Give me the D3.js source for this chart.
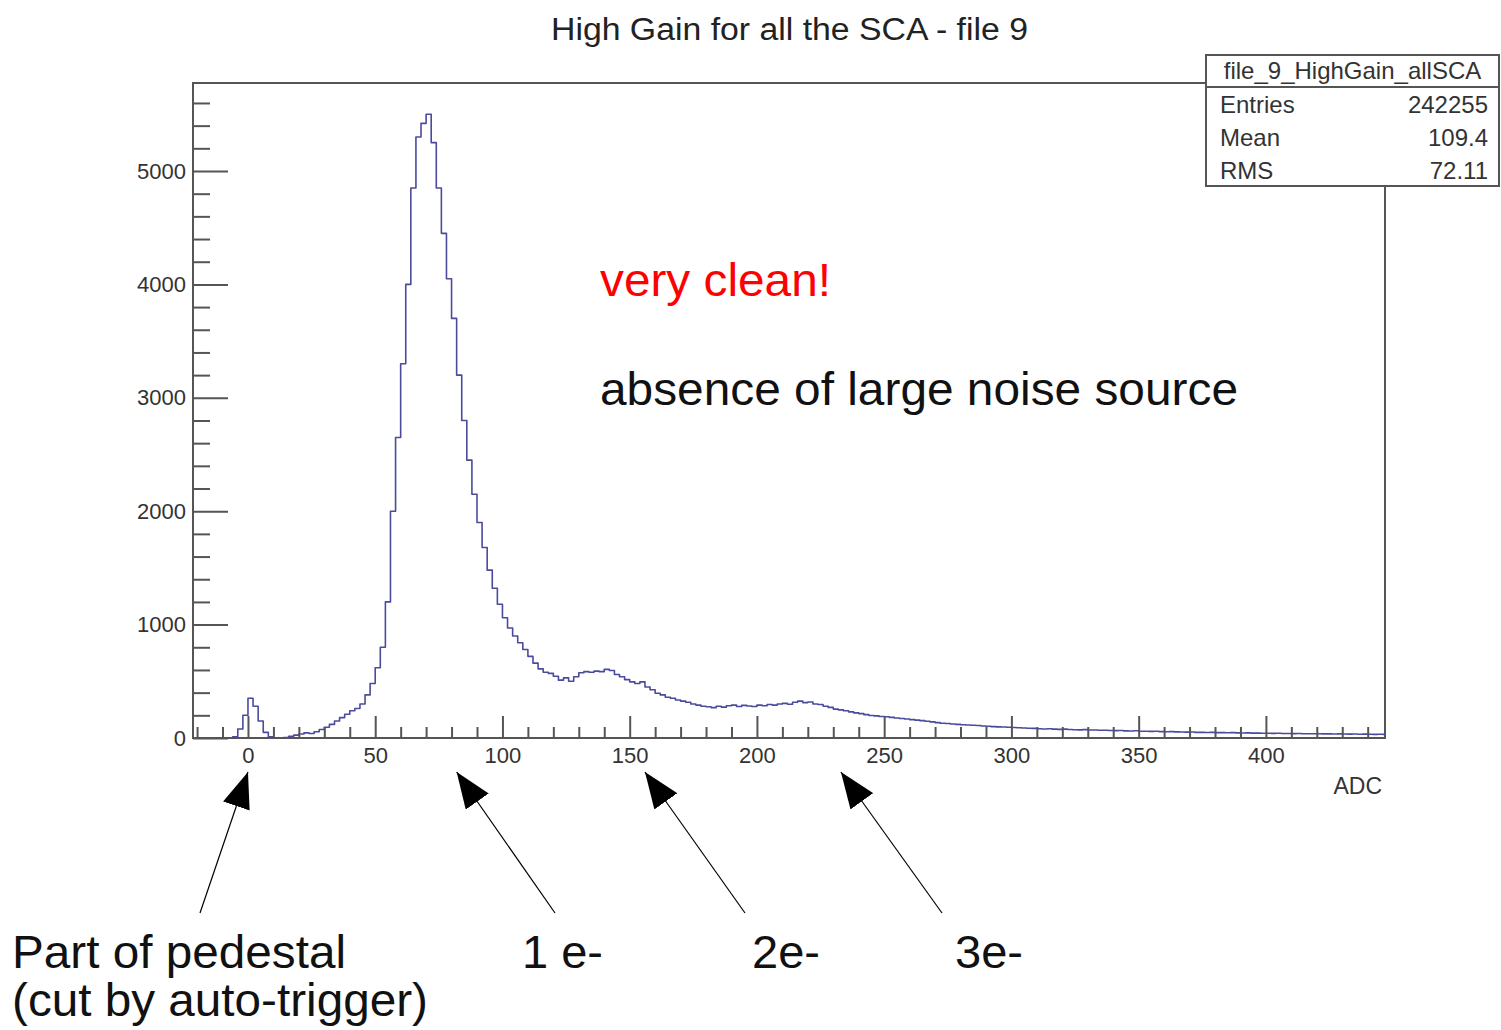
<!DOCTYPE html>
<html>
<head>
<meta charset="utf-8">
<script src="https://cdn.jsdelivr.net/npm/d3@7"></script>
<style>
  body { margin: 0; background: #fff; }
  svg { display: block; font-family: "Liberation Sans", Arial, sans-serif; }
</style>
</head>
<body>
<div id="chart"></div>
<script>
//////////////////////////////////////////////////////////////
////////////////// Data /////////////////
//////////////////////////////////////////////////////////////

//Histogram binning (ADC)
var binStart = -20,
    binWidth = 2;

//Counts per 2-ADC bin, starting at -20
var counts = [
  0, 0, 0, 0, 0, 0, 0, 10, 80, 200,                 // -20 .. -2
  350, 280, 150, 50, 10, 0, 0, 5, 15, 25,           // 0 .. 18
  35, 45, 40, 55, 75, 95, 120, 150, 180, 210,       // 20 .. 38
  240, 260, 300, 380, 480, 620, 800, 1200, 2000, 2650, // 40 .. 58
  3300, 4000, 4850, 5300, 5420, 5500, 5250, 4850, 4450, 4050, // 60 .. 78
  3700, 3200, 2800, 2450, 2150, 1900, 1680, 1480, 1320, 1180, // 80 .. 98
  1060, 970, 900, 840, 780, 720, 660, 610, 580, 570, // 100 .. 118
  545, 510, 530, 500, 540, 575, 585, 580, 590, 585, // 120 .. 138
  605, 595, 560, 540, 515, 495, 480, 495, 450, 425, // 140 .. 158
  395, 380, 360, 350, 335, 325, 315, 300, 290, 280, // 160 .. 178
  275, 268, 280, 272, 285, 290, 278, 288, 282, 278, // 180 .. 198
  290, 284, 295, 290, 300, 305, 298, 315, 325, 312, // 200 .. 218
  318, 300, 295, 280, 270, 255, 248, 240, 230, 222, // 220 .. 238
  215, 206, 198, 195, 190, 188, 182, 176, 172, 168, // 240 .. 258
  162, 158, 153, 148, 142, 136, 130, 128, 124, 120, // 260 .. 278
  117, 114, 112, 110, 106, 104, 100, 98, 97, 95,    // 280 .. 298
  92, 90, 88, 86, 85, 82, 80, 82, 78, 76,           // 300 .. 318
  78, 75, 73, 72, 74, 70, 70, 68, 68, 66,           // 320 .. 338
  65, 66, 63, 62, 64, 60, 60, 58, 59, 56,           // 340 .. 358
  55, 56, 54, 53, 52, 53, 50, 50, 49, 50,           // 360 .. 378
  47, 47, 46, 47, 45, 44, 45, 43, 43, 42,           // 380 .. 398
  42, 41, 42, 40, 40, 39, 40, 38, 38, 37,           // 400 .. 418
  38, 36, 36, 35, 36, 35, 34, 35, 33, 34,           // 420 .. 438
  33, 32, 33, 32                                    // 440 .. 446
];

var chartTitle = "High Gain for all the SCA - file 9",
    xTitle = "ADC";

var xMajorTicks = [0, 50, 100, 150, 200, 250, 300, 350, 400],
    yMajorTicks = [0, 1000, 2000, 3000, 4000, 5000];

//Statistics box
var statsName = "file_9_HighGain_allSCA",
    statsLabels = ["Entries", "Mean", "RMS"],
    statsValues = ["242255", "109.4", "72.11"];

//Annotations under the plot, with the ADC value each arrow points at
var arrowLabels = ["Part of pedestal", "1 e-", "2e-", "3e-"],
    arrowTargets = [0, 82, 156, 233];

//////////////////////////////////////////////////////////////
////////////////////////// Layout ////////////////////////////
//////////////////////////////////////////////////////////////

var width = 1501,
    height = 1030,
    frame = {left: 193, top: 83, right: 1385, bottom: 738};

var svg = d3.select("#chart").append("svg")
    .attr("width", width)
    .attr("height", height);

var x = d3.scaleLinear()
    .domain([-21.6, 446.8])
    .range([frame.left, frame.right]);

var y = d3.scaleLinear()
    .domain([0, 5776])
    .range([frame.bottom, frame.top]);

var axisColor = "#555",
    labelColor = "#333";

//Frame
svg.append("rect")
    .attr("x", frame.left)
    .attr("y", frame.top)
    .attr("width", frame.right - frame.left)
    .attr("height", frame.bottom - frame.top)
    .style("fill", "none")
    .style("stroke", axisColor)
    .style("stroke-width", 2);

//////////////////////////////////////////////////////////////
////////////////////////// Histogram /////////////////////////
//////////////////////////////////////////////////////////////

svg.append("clipPath").attr("id", "frameClip")
  .append("rect")
    .attr("x", frame.left)
    .attr("y", frame.top)
    .attr("width", frame.right - frame.left)
    .attr("height", frame.bottom - frame.top);

var steps = counts.map(function(d, i) { return [binStart + i * binWidth, d]; });
steps.push([binStart + counts.length * binWidth, counts[counts.length - 1]]);

var histLine = d3.line()
    .x(function(d) { return x(d[0]); })
    .y(function(d) { return y(d[1]); })
    .curve(d3.curveStepAfter);

svg.append("path")
    .datum(steps)
    .attr("clip-path", "url(#frameClip)")
    .attr("d", histLine)
    .style("fill", "none")
    .style("stroke", "#4b4b9e")
    .style("stroke-width", 1.6)
    .style("stroke-linejoin", "round");

//////////////////////////////////////////////////////////////
//////////////////////////// Axes ////////////////////////////
//////////////////////////////////////////////////////////////

var xMinor = d3.range(-20, 447, 10).filter(function(d) { return d % 50 !== 0; });
var yMinor = d3.range(200, 5700, 200).filter(function(d) { return d % 1000 !== 0; });

function styleAxis(g) {
  g.select(".domain").remove();
  g.selectAll("line").style("stroke", axisColor).style("stroke-width", 2);
  g.selectAll("text")
    .style("fill", labelColor)
    .style("font-size", "22px")
    .style("font-family", "'Liberation Sans', Arial, sans-serif");
}

//x axis: ticks drawn inward (upwards)
svg.append("g")
    .attr("transform", "translate(0," + frame.bottom + ")")
    .call(d3.axisBottom(x).tickValues(xMinor).tickFormat("").tickSize(-11).tickSizeOuter(0))
    .call(styleAxis);

svg.append("g")
    .attr("transform", "translate(0," + frame.bottom + ")")
    .call(d3.axisBottom(x).tickValues(xMajorTicks).tickFormat(d3.format("d")).tickSize(-22).tickSizeOuter(0).tickPadding(9))
    .call(styleAxis);

//y axis: ticks drawn inward (to the right)
svg.append("g")
    .attr("transform", "translate(" + frame.left + ",0)")
    .call(d3.axisLeft(y).tickValues(yMinor).tickFormat("").tickSize(-17).tickSizeOuter(0))
    .call(styleAxis);

svg.append("g")
    .attr("transform", "translate(" + frame.left + ",0)")
    .call(d3.axisLeft(y).tickValues(yMajorTicks).tickFormat(d3.format("d")).tickSize(-35).tickSizeOuter(0).tickPadding(7))
    .call(styleAxis);

//Axis title
svg.append("text")
    .attr("x", frame.right - 3)
    .attr("y", 794)
    .style("text-anchor", "end")
    .style("font-size", "23px")
    .style("fill", labelColor)
    .text(xTitle);

//Chart title
svg.append("text")
    .attr("x", 551)
    .attr("y", 40)
    .attr("textLength", 477)
    .attr("lengthAdjust", "spacingAndGlyphs")
    .style("font-size", "31px")
    .style("fill", "#222")
    .text(chartTitle);

//////////////////////////////////////////////////////////////
/////////////////////// Statistics box ///////////////////////
//////////////////////////////////////////////////////////////

var stats = {left: 1206, top: 55, right: 1499, bottom: 186, header: 87, rowH: 33};

svg.append("rect")
    .attr("x", stats.left)
    .attr("y", stats.top)
    .attr("width", stats.right - stats.left)
    .attr("height", stats.bottom - stats.top)
    .style("fill", "#fff")
    .style("stroke", axisColor)
    .style("stroke-width", 2);

svg.append("line")
    .attr("x1", stats.left).attr("x2", stats.right)
    .attr("y1", stats.header).attr("y2", stats.header)
    .style("stroke", axisColor)
    .style("stroke-width", 2);

svg.append("text")
    .attr("x", (stats.left + stats.right) / 2)
    .attr("y", 79)
    .style("text-anchor", "middle")
    .style("font-size", "24px")
    .style("fill", labelColor)
    .text(statsName);

statsLabels.forEach(function(lab, i) {
  var yy = 113 + i * stats.rowH;
  svg.append("text")
      .attr("x", stats.left + 14)
      .attr("y", yy)
      .style("font-size", "24px")
      .style("fill", labelColor)
      .text(lab);
  svg.append("text")
      .attr("x", stats.right - 11)
      .attr("y", yy)
      .style("text-anchor", "end")
      .style("font-size", "24px")
      .style("fill", labelColor)
      .text(statsValues[i]);
});

//////////////////////////////////////////////////////////////
/////////////////////// Annotations //////////////////////////
//////////////////////////////////////////////////////////////

svg.append("text")
    .attr("x", 600)
    .attr("y", 296)
    .attr("textLength", 231)
    .attr("lengthAdjust", "spacingAndGlyphs")
    .style("font-size", "46px")
    .style("fill", "#ff0000")
    .text("very clean!");

svg.append("text")
    .attr("x", 600)
    .attr("y", 405)
    .attr("textLength", 638)
    .attr("lengthAdjust", "spacingAndGlyphs")
    .style("font-size", "46px")
    .style("fill", "#111")
    .text("absence of large noise source");

//Arrows from the labels up to the x axis
var arrowTails = [[200, 913], [555, 913], [745, 913], [942, 913]],
    tipY = 772;

svg.append("defs").append("marker")
    .attr("id", "head")
    .attr("viewBox", "0 0 36 28")
    .attr("refX", 36)
    .attr("refY", 14)
    .attr("markerUnits", "userSpaceOnUse")
    .attr("markerWidth", 36)
    .attr("markerHeight", 28)
    .attr("orient", "auto")
  .append("path")
    .attr("d", "M0,0 L36,14 L0,28 Z")
    .style("fill", "#000");

arrowTargets.forEach(function(t, i) {
  svg.append("line")
      .attr("x1", arrowTails[i][0])
      .attr("y1", arrowTails[i][1])
      .attr("x2", x(t))
      .attr("y2", tipY)
      .attr("marker-end", "url(#head)")
      .style("stroke", "#000")
      .style("stroke-width", 1.2);
});

//Labels under the arrows
var labelPos = [[12, 968, 334], [522, 968, 81], [752, 968, 68], [955, 968, 68]];
arrowLabels.forEach(function(lab, i) {
  svg.append("text")
      .attr("x", labelPos[i][0])
      .attr("y", labelPos[i][1])
      .attr("textLength", labelPos[i][2])
      .attr("lengthAdjust", "spacingAndGlyphs")
      .style("font-size", "46px")
      .style("fill", "#111")
      .text(lab);
});

svg.append("text")
    .attr("x", 12)
    .attr("y", 1016)
    .attr("textLength", 416)
    .attr("lengthAdjust", "spacingAndGlyphs")
    .style("font-size", "46px")
    .style("fill", "#111")
    .text("(cut by auto-trigger)");
</script>
</body>
</html>
